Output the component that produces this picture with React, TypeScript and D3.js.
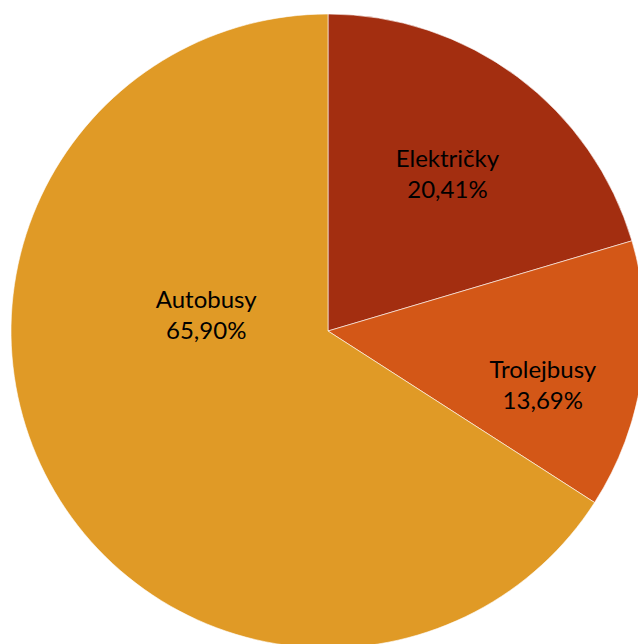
import React from "react";
import * as d3 from "d3";

const categories = ["Električky", "Trolejbusy", "Autobusy"];
const values = [20.41, 13.69, 65.9];
const valueLabels = ["20,41%", "13,69%", "65,90%"];
const colors = ["#A32E10", "#D35717", "#E09A26"];
// label placement (degrees clockwise from top, fraction of radius) — Excel "best fit" look
const labelAngles = [38.9, 106.3, 273.5];
const labelRadii = [0.6, 0.706, 0.385];

const W = 638;
const H = 644;
const cx = 328;
const cy = 331;
const R = 317;

export default function App() {
  const pie = d3.pie<number>().sort(null).value((d) => d);
  const arcs = pie(values);
  const arcGen = d3.arc<d3.PieArcDatum<number>>().innerRadius(0).outerRadius(R);
  const fontSize = 24;
  const lineGap = 31;
  return (
    <div style={{ position: "fixed", left: 0, top: 0, width: W, height: H, background: "#fff" }}>
      <svg width={W} height={H} style={{ display: "block" }}>
        <g transform={`translate(${cx},${cy})`}>
          {arcs.map((a, i) => (
            <path key={i} d={arcGen(a) || ""} fill={colors[i]} stroke="#fff" strokeWidth={0.6} />
          ))}
          {arcs.map((a, i) => {
            const ang = (labelAngles[i] * Math.PI) / 180;
            const r = labelRadii[i] * R;
            const x = r * Math.sin(ang);
            const y = -r * Math.cos(ang);
            return (
              <text
                key={"t" + i}
                x={x}
                y={y}
                textAnchor="middle"
                fontFamily="Lato, 'Open Sans', sans-serif"
                fontSize={fontSize}
                fill="#000"
              >
                <tspan x={x} y={y - lineGap / 2}>{categories[i]}</tspan>
                <tspan x={x} y={y + lineGap / 2}>{valueLabels[i]}</tspan>
              </text>
            );
          })}
        </g>
      </svg>
    </div>
  );
}
